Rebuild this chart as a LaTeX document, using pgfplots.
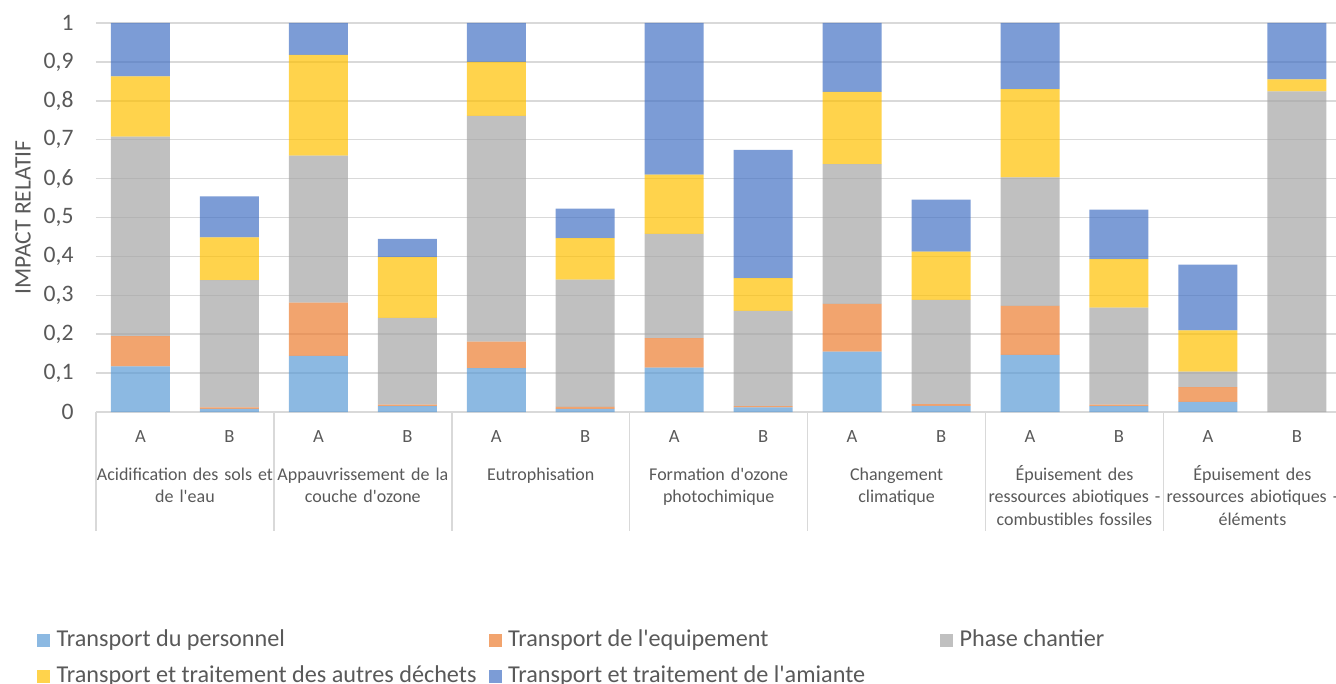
\documentclass[border=0pt]{standalone}
\usepackage{fontspec}
\setmainfont{Carlito}[Ligatures=TeXOff]
\usepackage{pgfplots}
\usepackage{pgfplotstable}
\pgfplotsset{compat=1.18}

% Office palette, bars are drawn at 70% opacity like the original
\definecolor{tperso}{HTML}{5B9BD5}
\definecolor{tequip}{HTML}{ED7D31}
\definecolor{chantier}{HTML}{A5A5A5}
\definecolor{dechets}{HTML}{FFC000}
\definecolor{amiante}{HTML}{4472C4}
\definecolor{textgray}{HTML}{595959}
\definecolor{gridgray}{HTML}{D9D9D9}

% relative impact per bar (A/B for each category)
\pgfplotstableread{
x  tp    te    pc    td    ta
0  0.117 0.078 0.513 0.155 0.137
1  0.008 0.004 0.327 0.110 0.105
2  0.144 0.137 0.378 0.259 0.082
3  0.015 0.004 0.223 0.156 0.047
4  0.113 0.068 0.580 0.139 0.100
5  0.008 0.005 0.327 0.107 0.076
6  0.114 0.076 0.268 0.152 0.390
7  0.012 0.003 0.245 0.084 0.330
8  0.155 0.123 0.359 0.186 0.177
9  0.016 0.004 0.268 0.124 0.134
10 0.147 0.126 0.330 0.227 0.170
11 0.015 0.004 0.249 0.125 0.127
12 0.026 0.038 0.040 0.106 0.169
13 0     0     0.824 0.031 0.145
}\impacts

\tikzset{
  catlabel/.style={anchor=base, yshift=-34pt, align=center, text width=100pt,
    inner sep=0pt, text=textgray, font=\fontsize{9.0}{11.35}\selectfont},
  sep/.style={draw=gridgray, line width=0.75pt},
}

\begin{document}
\begin{tikzpicture}
\begin{axis}[
  at={(0pt,0pt)}, anchor=south west,
  ybar stacked,
  scale only axis,
  width=620pt, height=194.5pt,
  bar width=29.5pt,
  xmin=-0.5, xmax=13.44,
  ymin=0, ymax=1,
  ytick={0,0.1,...,1},
  xtick={0,...,13},
  xticklabels={A,B,A,B,A,B,A,B,A,B,A,B,A,B},
  axis lines*=left,
  y axis line style={draw=none},
  x axis line style={draw=gridgray, line width=0.75pt},
  major tick length=0pt,
  tick style={draw=none},
  ymajorgrids,
  grid style={draw=gridgray, line width=0.75pt},
  /pgf/number format/assume math mode=true,
  yticklabel style={/pgf/number format/fixed, /pgf/number format/precision=1,
    /pgf/number format/use comma, text=textgray,
    font=\fontsize{11.8}{14}\selectfont, xshift=-7.7pt},
  xticklabel style={anchor=base, yshift=-15.2pt, text=textgray,
    font=\fontsize{9.3}{11.35}\selectfont},
  ylabel={IMPACT RELATIF},
  ylabel style={at={(axis description cs:-0.0469,0.5)}, anchor=south,
    text=textgray, font=\fontsize{11.8}{14}\selectfont},
  legend columns=3,
  legend image code/.code={\fill[#1] (0pt,0pt) rectangle (6.5pt,6.5pt);},
  legend style={
    at={(axis description cs:-0.04758,-0.55707)}, anchor=north west,
    draw=none, fill=none, inner sep=0pt, outer sep=0pt,
    font=\fontsize{12.1}{14}\selectfont, text=textgray,
    row sep=9pt, column sep=0pt,
    nodes={inner sep=0pt, text height=9pt, text depth=0pt},
    cells={anchor=base west},
    /tikz/every odd column/.append style={column sep=3.3pt},
  },
  clip=false,
]
\addplot[fill=tperso, fill opacity=0.7, draw=none] table[x=x, y=tp] {\impacts};
\addlegendentry{\makebox[215.95pt][l]{Transport du personnel}}
\addplot[fill=tequip, fill opacity=0.7, draw=none] table[x=x, y=te] {\impacts};
\addlegendentry{\makebox[215.95pt][l]{Transport de l'equipement}}
\addplot[fill=chantier, fill opacity=0.7, draw=none] table[x=x, y=pc] {\impacts};
\addlegendentry{Phase chantier}
\addplot[fill=dechets, fill opacity=0.7, draw=none] table[x=x, y=td] {\impacts};
\addlegendentry{\makebox[215.95pt][l]{Transport et traitement des autres déchets}}
\addplot[fill=amiante, fill opacity=0.7, draw=none] table[x=x, y=ta] {\impacts};
\addlegendentry{Transport et traitement de l'amiante}

% category separators below the axis
\pgfplotsinvokeforeach{-0.5,1.5,3.5,5.5,7.5,9.5,11.5}{
  \draw[sep] (axis cs:#1,0) -- ++(0pt,-59.5pt);
}

\node[catlabel] at (axis cs:0.5,0) {Acidification des sols et\\de l'eau};
\node[catlabel] at (axis cs:2.5,0) {Appauvrissement de la\\couche d'ozone};
\node[catlabel] at (axis cs:4.5,0) {Eutrophisation};
\node[catlabel] at (axis cs:6.5,0) {Formation d'ozone\\photochimique};
\node[catlabel] at (axis cs:8.5,0) {Changement\\climatique};
\node[catlabel] at (axis cs:10.5,0) {Épuisement des\\ressources abiotiques -\\combustibles fossiles};
\node[catlabel] at (axis cs:12.5,0) {Épuisement des\\ressources abiotiques -\\éléments};
\end{axis}
\pgfresetboundingbox
\path[use as bounding box] (-48pt,-136pt) rectangle (620pt,206pt);
\end{tikzpicture}
\end{document}
